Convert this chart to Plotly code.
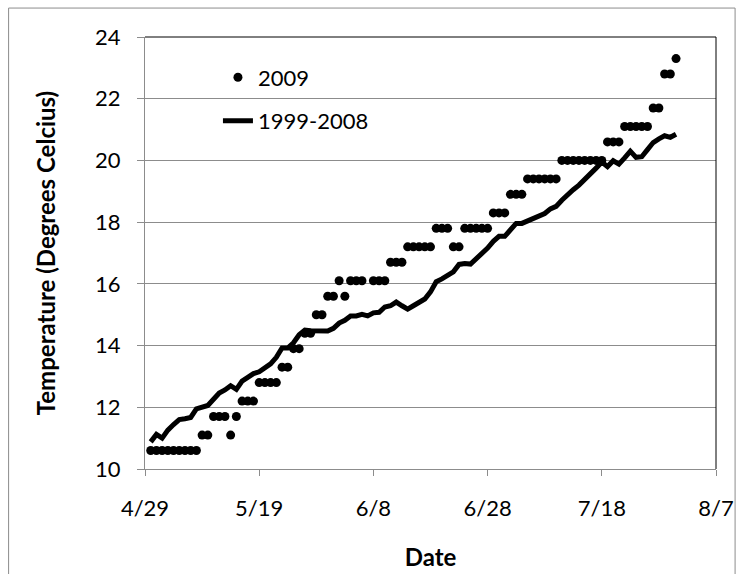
import plotly.graph_objects as go
import pandas as pd

# Daily dates (4/30/2009 .. 7/31/2009)
dates = pd.date_range("2009-04-30", periods=93).strftime("%Y-%m-%d").tolist()

# 2009 observed water temperature (deg C)
obs_2009 = [
    10.6, 10.6, 10.6, 10.6, 10.6, 10.6, 10.6, 10.6, 10.6, 11.1,
    11.1, 11.7, 11.7, 11.7, 11.1, 11.7, 12.2, 12.2, 12.2, 12.8,
    12.8, 12.8, 12.8, 13.3, 13.3, 13.9, 13.9, 14.4, 14.4, 15.0,
    15.0, 15.6, 15.6, 16.1, 15.6, 16.1, 16.1, 16.1, None, 16.1,
    16.1, 16.1, 16.7, 16.7, 16.7, 17.2, 17.2, 17.2, 17.2, 17.2,
    17.8, 17.8, 17.8, 17.2, 17.2, 17.8, 17.8, 17.8, 17.8, 17.8,
    18.3, 18.3, 18.3, 18.9, 18.9, 18.9, 19.4, 19.4, 19.4, 19.4,
    19.4, 19.4, 20.0, 20.0, 20.0, 20.0, 20.0, 20.0, 20.0, 20.0,
    20.6, 20.6, 20.6, 21.1, 21.1, 21.1, 21.1, 21.1, 21.7, 21.7,
    22.8, 22.8, 23.3,
]

# 1999-2008 average temperature (deg C)
avg_1999_2008 = [
    10.88, 11.12, 11.00, 11.26, 11.44, 11.60, 11.63, 11.67, 11.95, 12.00,
    12.06, 12.26, 12.46, 12.56, 12.70, 12.58, 12.85, 12.97, 13.09, 13.15,
    13.27, 13.41, 13.62, 13.92, 13.92, 14.09, 14.35, 14.50, 14.48, 14.47,
    14.47, 14.47, 14.56, 14.73, 14.82, 14.96, 14.96, 15.01, 14.96, 15.06,
    15.08, 15.25, 15.29, 15.41, 15.29, 15.18, 15.29, 15.41, 15.51, 15.74,
    16.07, 16.16, 16.27, 16.39, 16.63, 16.66, 16.64, 16.80, 16.98, 17.16,
    17.38, 17.54, 17.54, 17.77, 17.96, 17.96, 18.04, 18.16, 18.20, 18.28,
    18.43, 18.51, 18.71, 18.90, 19.05, 19.20, 19.37, 19.55, 19.75, 19.95,
    19.80, 19.99, 19.88, 20.08, 20.30, 20.10, 20.12, 20.35, 20.58, 20.70,
    20.80, 20.75, 20.85,
]

x_range = ["2009-04-29", "2009-08-07"]
y_range = [10, 24]

FONT = "Lato, 'Open Sans', sans-serif"
GRAY = "#8c8c8c"

fig = go.Figure()
fig.add_trace(go.Scatter(
    x=dates, y=avg_1999_2008, mode="lines", name="1999-2008",
    line=dict(color="black", width=5), legendgroup="b", legendrank=2,
))
fig.add_trace(go.Scatter(
    x=dates, y=obs_2009, mode="markers", name="2009",
    marker=dict(color="black", size=9), legendgroup="a", legendrank=1,
))

W, H = 739, 574
L, T = 145, 36.5
R = W - 716.4
B = H - 469.3
pw, ph = W - L - R, H - T - B

def px(xp):
    return (xp - L) / pw

def py(yp):
    return (H - B - yp) / ph

fig.update_layout(
    width=W, height=H,
    margin=dict(l=L, r=R, t=T, b=B, autoexpand=False),
    paper_bgcolor="white", plot_bgcolor="white",
    font=dict(family=FONT, size=22, color="black"),
    showlegend=True,
    legend=dict(
        x=px(218), y=py(56), xanchor="left", yanchor="top",
        bgcolor="rgba(0,0,0,0)", traceorder="grouped", tracegroupgap=12,
        font=dict(size=22), itemwidth=30,
    ),
    xaxis=dict(
        type="date", range=x_range, tick0="2009-04-29", dtick=20 * 86400000,
        tickformat="%-m/%-d", ticks="outside", ticklen=6, tickcolor=GRAY,
        showline=True, linecolor=GRAY, linewidth=1, showgrid=False,
        zeroline=False, ticklabelstandoff=14, automargin=False,
        title=dict(text="<b>Date</b>", standoff=28, font=dict(size=24)),
    ),
    yaxis=dict(
        range=y_range, tick0=10, dtick=2, ticks="outside", ticklen=7,
        tickcolor=GRAY, showline=True, linecolor=GRAY, linewidth=1,
        showgrid=True, gridcolor=GRAY, gridwidth=1, zeroline=False,
        ticklabelstandoff=12, automargin=False,
        title=dict(text="<b>Temperature (Degrees Celcius)</b>", standoff=32,
                   font=dict(size=24)),
    ),
    shapes=[
        dict(type="line", xref="paper", yref="paper", x0=0, x1=1, y0=1, y1=1,
             line=dict(color="black", width=1), layer="above"),
        dict(type="line", xref="paper", yref="paper", x0=1, x1=1, y0=0, y1=1,
             line=dict(color="black", width=1), layer="above"),
        dict(type="rect", xref="paper", yref="paper",
             x0=px(8.5), x1=px(735.5), y0=py(600), y1=py(7.5),
             line=dict(color=GRAY, width=1), layer="below"),
    ],
)

fig.write_html(
    "out.html",
    config={"displayModeBar": False},
    post_script="document.body.style.margin='0';document.body.style.overflow='hidden';",
)
